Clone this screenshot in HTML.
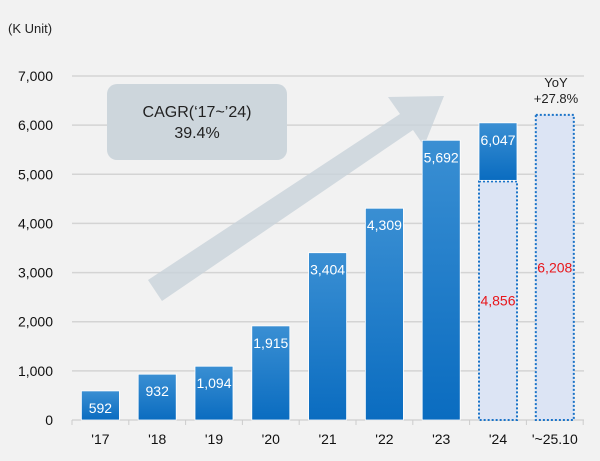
<!DOCTYPE html>
<html><head><meta charset="utf-8"><style>
body{margin:0;background:#f2f2f2;}
svg{display:block;font-family:"Liberation Sans",sans-serif;}
</style></head><body>
<svg id="c" width="600" height="461">
<defs>
<linearGradient id="g" x1="0" y1="0" x2="0" y2="1"><stop offset="0" stop-color="#3a8fd3"/><stop offset="1" stop-color="#0a6cc0"/></linearGradient>
</defs>
<text x="8" y="33" font-size="13" fill="#222">(K Unit)</text>
<g id="grid"></g>
<path d="M148 280 L400 114 L388 97 L444 96 L424 146 L413 130 L162 301 Z" fill="#c8d2d9" opacity="0.8"/>
<rect x="107" y="84" width="180" height="76" rx="10" fill="#cdd6dc"/>
<text x="197" y="117" font-size="16" fill="#222" text-anchor="middle">CAGR(‘17~’24)</text>
<text x="197" y="138" font-size="16" fill="#222" text-anchor="middle">39.4%</text>
<g id="bars"></g>
<text x="556" y="87" font-size="13" fill="#222" text-anchor="middle">YoY</text>
<text x="556" y="103" font-size="13" fill="#222" text-anchor="middle">+27.8%</text>
</svg>
<script>
const categories=["'17","'18","'19","'20","'21","'22","'23","'24","'~25.10"];
const values=[592,932,1094,1915,3404,4309,5692,6047,null];
const dottedValues=[null,null,null,null,null,null,null,4856,6208];
const yTicks=[0,1000,2000,3000,4000,5000,6000,7000];
const ns="http://www.w3.org/2000/svg";
const x0=72,step=56.8,bw=38,y0=420,yTop=76,yMax=7000;
const y=v=>y0-(v/yMax)*(y0-yTop);
const cx=i=>x0+step*i+step/2;
function mk(t,a,p){const e=document.createElementNS(ns,t);for(const k in a)e.setAttribute(k,a[k]);(p||document.getElementById('c')).appendChild(e);return e;}
const grid=document.getElementById('grid'),bars=document.getElementById('bars');
yTicks.forEach(v=>{
 const l=mk('line',{x1:x0,x2:584,y1:y(v),y2:y(v),stroke:'#d4d4d4','stroke-width':1.5},grid);
 
 
 const t=mk('text',{x:53,y:y(v)+5,'font-size':14,fill:'#111','text-anchor':'end'},grid);
 t.textContent=v.toLocaleString('en-US');
 
 
});
for(let i=0;i<=categories.length;i++){
 const tk=mk('line',{x1:x0+step*i,x2:x0+step*i,y1:y0,y2:y0+5,stroke:'#ccc'},grid);
 
 
}
categories.forEach((c,i)=>{
 const t=mk('text',{x:cx(i),y:444,'font-size':14,fill:'#111','text-anchor':'middle'},grid);
 t.textContent=c;
 
 
 const d=dottedValues[i],v=values[i];
 if(d!=null){
  const r=mk('rect',{x:cx(i)-bw/2,y:y(d),width:bw,height:y0-y(d),fill:'#dce4f4',stroke:'#1a73c8','stroke-width':2,'stroke-dasharray':'2 2'},bars);
  
  
  const lt=mk('text',{x:cx(i),y:(y(d)+y0)/2+5,'font-size':14,fill:'#e8161b','text-anchor':'middle'},bars);
  lt.textContent=d.toLocaleString('en-US');
  
  
 }
 if(v!=null){
  const base=d!=null?y(d)-1:y0;
  const r=mk('rect',{x:cx(i)-bw/2,y:y(v),width:bw,height:base-y(v),fill:'url(#g)',stroke:'#fff','stroke-width':0.8},bars);
  
  
  const lt=mk('text',{x:cx(i),y:y(v)+22,'font-size':14,fill:'#fff','text-anchor':'middle'},bars);
  lt.textContent=v.toLocaleString('en-US');
  
  
 }
});
</script>
</body></html>
